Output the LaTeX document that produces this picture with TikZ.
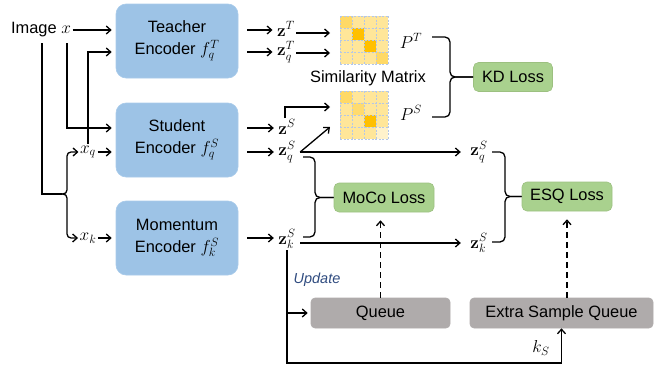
\documentclass[tikz,border=0pt]{standalone}
\usepackage[no-math]{fontspec}
\setmainfont{Liberation Sans}
\usetikzlibrary{arrows.meta}
\definecolor{encblue}{HTML}{9DC3E6}
\definecolor{encedge}{HTML}{A9CBEA}
\definecolor{lossgreen}{HTML}{A9D18E}
\definecolor{lossedge}{HTML}{9CC080}
\definecolor{qgray}{HTML}{AFABAB}
\definecolor{cellbase}{HTML}{FFE699}
\definecolor{celldark}{HTML}{FFD966}
\definecolor{cellorange}{HTML}{FFC000}
\definecolor{cellpale}{HTML}{FFF2CC}
\definecolor{gridblue}{HTML}{B4C7E7}
\definecolor{updblue}{HTML}{2F4B7F}
\begin{document}
\begin{tikzpicture}[x=1pt,y=-1pt,
  font=\fontsize{16.4}{22}\selectfont,
  line width=1.3pt,
  >={Straight Barb[length=4.5pt,width=8pt]},
  encbox/.style={fill=encblue, draw=encedge, line width=0.6pt, rounded corners=10pt,
    minimum width=122pt, minimum height=74pt, align=center, inner sep=0pt},
  lossbox/.style={fill=lossgreen, draw=lossedge, line width=0.6pt, rounded corners=5pt,
    minimum height=29pt, inner sep=0pt},
  queuebox/.style={fill=qgray, draw=qgray, line width=0.6pt, rounded corners=4pt,
    minimum height=30pt, inner sep=0pt},
  lbl/.style={inner sep=1pt},
  mlbl/.style={inner sep=1pt, font=\fontsize{17.5}{22}\selectfont},
  bracepath/.style={rounded corners=5pt},
  griddash/.style={draw=gridblue, line width=0.8pt, dash pattern=on 2pt off 1.5pt},
  dasharrow/.style={->, dash pattern=on 6pt off 4pt}
]
\useasboundingbox (0,0) rectangle (665,367);

% encoders
\node[encbox] (teacher) at (177,41) {Teacher\\Encoder $f_q^T$};
\node[encbox] (student) at (177,140) {Student\\Encoder $f_q^S$};
\node[encbox] (momentum) at (177,238) {Momentum\\Encoder $f_k^S$};

% inputs
\node[lbl] (img) at (41,30) {Image $x$};
\node[mlbl] (xq) at (88,152) {$x_q$};
\node[mlbl] (xk) at (88,238) {$x_k$};
\coordinate (v1) at (42,43);
\coordinate (v2) at (67,43);
\coordinate (bt) at (42,194);

\draw[->, shorten >=4pt] (img.east) -- (teacher.west |- img.east);
\draw (v1) -- (bt) -- (62,194);
\draw[->, bracepath, rounded corners=4pt] (60,194) -- (67,194) |- (xq.west);
\draw[->, bracepath, rounded corners=4pt] (60,194) -- (67,194) |- (xk.west);
\draw[->, shorten >=4pt] (v2) |- (student.west |- 0,128);
\draw[->, shorten >=4pt] (xq.north) |- (teacher.west |- 0,52);
\draw[->, shorten >=4pt] (xq.east) -- (student.west |- xq.east);
\draw[->, shorten >=4pt] (xk.east) -- (momentum.west |- xk.east);

% outputs
\node[mlbl] (zT) at (286,29) {$\mathbf{z}^T$};
\node[mlbl] (zqT) at (286,52) {$\mathbf{z}_q^T$};
\node[mlbl] (zS) at (287,127) {$\mathbf{z}^S$};
\node[mlbl] (zqS) at (287,152) {$\mathbf{z}_q^S$};
\node[mlbl] (zkS) at (287,239) {$\mathbf{z}_k^S$};
\node[mlbl] (zqS2) at (479,152) {$\mathbf{z}_q^S$};
\node[mlbl] (zkS2) at (479,243) {$\mathbf{z}_k^S$};

\draw[->, shorten <=9pt, shorten >=3pt] (teacher.east |- 0,30) -- (zT.west |- 0,30);
\draw[->, shorten <=9pt, shorten >=3pt] (teacher.east |- 0,52) -- (zqT.west |- 0,52);
\draw[->, shorten <=9pt, shorten >=3pt] (student.east |- 0,128) -- (zS.west |- 0,128);
\draw[->, shorten <=9pt, shorten >=3pt] (student.east |- 0,152) -- (zqS.west |- 0,152);
\draw[->, shorten <=9pt, shorten >=3pt] (momentum.east |- 0,238) -- (zkS.west |- 0,238);

% similarity matrices
\coordinate (inT1) at (330,33);
\coordinate (inT2) at (330,53);
\coordinate (inS1) at (330,107);
\coordinate (inS2) at (330,127);
\draw[->] (zT.east |- inT1) -- (inT1);
\draw[->] (zqT.east |- inT2) -- (inT2);
\draw[->] ([xshift=-2pt]zS.north) |- (inS1);
\draw[->] ([xshift=3pt]zqS.east) -- (inS2);

% matrix T
\foreach \i in {0,...,3}{\foreach \j in {0,...,3}{\fill[cellbase] (340+12*\i,16+12*\j) rectangle +(12,12);}}
\fill[celldark] (340,16) rectangle +(12,12);
\fill[cellorange] (352,28) rectangle +(12,12);
\fill[cellorange] (364,40) rectangle +(12,12);
\fill[celldark] (376,52) rectangle +(12,12);
\foreach \k in {0,...,4}{
  \draw[griddash] (340+12*\k,16) -- +(0,48);
  \draw[griddash] (340,16+12*\k) -- +(48,0);}
% matrix S
\foreach \i in {0,...,3}{\foreach \j in {0,...,3}{\fill[cellbase] (340+12*\i,91+12*\j) rectangle +(12,12);}}
\fill[celldark] (340,91) rectangle +(12,12);
\fill[celldark!85!cellbase] (352,103) rectangle +(12,12);
\fill[cellorange] (364,115) rectangle +(12,12);
\fill[cellpale] (376,127) rectangle +(12,12);
\foreach \k in {0,...,4}{
  \draw[griddash] (340+12*\k,91) -- +(0,48);
  \draw[griddash] (340,91+12*\k) -- +(48,0);}

\node[lbl] (simlbl) at (368,78) {Similarity Matrix};
\node[mlbl] (PT) at (411,41) {$P^T$};
\node[mlbl] (PS) at (411,113) {$P^S$};

% losses
\node[lossbox, minimum width=79pt] (kd) at (513,77) {KD Loss};
\node[lossbox, minimum width=100pt] (moco) at (384,197.5) {MoCo Loss};
\node[lossbox, minimum width=90pt] (esq) at (567,196.5) {ESQ Loss};

\draw[bracepath] (432,37) -- (450,37) |- (kd.west);
\draw[bracepath] (432,117) -- (450,117) |- (kd.west);
\draw[bracepath] (303,157) -- (315,157) |- (moco.west);
\draw[bracepath] (303,237) -- (315,237) |- (moco.west);
\draw[bracepath] (492,152) -- (505,152) |- (esq.west);
\draw[bracepath] (492,242) -- (505,242) |- (esq.west);

\draw[->, shorten >=8pt] ([xshift=3pt]zqS.east) -- (zqS2.west);
\draw[->, shorten <=3pt, shorten >=8pt] (zkS.east |- zkS2.west) -- (zkS2.west);

% queues
\node[queuebox, minimum width=139pt] (queue) at (380.5,313) {Queue};
\node[queuebox, minimum width=183pt] (esqueue) at (561.5,313) {Extra Sample Queue};

\draw[dasharrow, shorten >=8pt] (queue.north) -- (queue.north |- moco.south);
\draw[dasharrow, shorten >=8pt] (esqueue.north -| esq.south) -- (esq.south);

\coordinate (ub) at (287,363);
\draw[->] (zkS.south) -- (zkS.south |- ub) -| (esqueue.south);
\draw[->, shorten >=3pt] (zkS.south |- queue.west) -- (queue.west);
\node[lbl, anchor=west, text=updblue, font=\fontsize{14.5}{17}\selectfont\itshape] (upd) at (292,280) {Update};
\node[mlbl] (ks) at (541,348) {$k_S$};
\end{tikzpicture}
\end{document}
